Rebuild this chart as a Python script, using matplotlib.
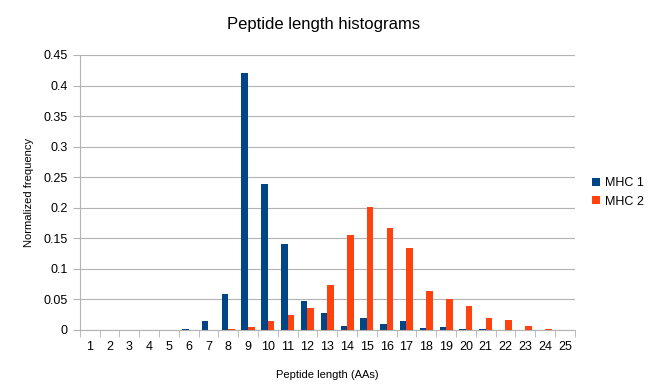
import numpy as np
import matplotlib.pyplot as plt

plt.rcParams['font.family'] = ['Liberation Sans', 'DejaVu Sans']

lengths = list(range(1, 26))
mhc1 = [0, 0, 0, 0, 0, 0.001, 0.015, 0.059, 0.42, 0.239, 0.141, 0.047, 0.028,
        0.007, 0.019, 0.009, 0.015, 0.003, 0.004, 0.001, 0.001, 0.0005, 0.0005, 0, 0]
mhc2 = [0, 0, 0, 0, 0, 0, 0, 0.001, 0.004, 0.015, 0.025, 0.036, 0.074,
        0.156, 0.201, 0.167, 0.134, 0.063, 0.05, 0.039, 0.019, 0.017, 0.007, 0.001, 0]

fig = plt.figure(figsize=(6.48, 3.9), dpi=100)
ax = fig.add_axes([0.123, 0.154, 0.764, 0.705])

x = np.arange(len(lengths))
w = 0.33
ax.bar(x - w / 2, mhc1, w, color='#004586', label='MHC 1', zorder=3)
ax.bar(x + w / 2, mhc2, w, color='#ff420e', label='MHC 2', zorder=3)

ax.set_xlim(-0.5, len(lengths) - 0.5)
ax.set_ylim(0, 0.45)
ax.set_yticks(np.arange(0, 0.451, 0.05))
ax.set_yticklabels(['0', '0.05', '0.1', '0.15', '0.2', '0.25', '0.3', '0.35', '0.4', '0.45'])
ax.set_xticks(x)
ax.set_xticklabels([str(v) for v in lengths])
ax.set_xticks(np.arange(-0.5, len(lengths), 1), minor=True)
ax.tick_params(axis='x', which='major', length=0, pad=8, labelsize=9)
ax.tick_params(axis='x', which='minor', length=5, color='#b3b3b3')
ax.tick_params(axis='y', length=5, color='#b3b3b3', labelsize=9)
ax.grid(axis='y', color='#b3b3b3', linewidth=0.8, zorder=0)

for s in ['top', 'right']:
    ax.spines[s].set_visible(False)
for s in ['left', 'bottom']:
    ax.spines[s].set_color('#b3b3b3')

ax.set_xlabel('Peptide length (AAs)', fontsize=8, labelpad=12)
ax.set_ylabel('Normalized frequency', fontsize=8, labelpad=7)
fig.text(0.5, 0.925, 'Peptide length histograms', ha='center', fontsize=12)

ax.legend(loc='center left', bbox_to_anchor=(1.0, 0.5), frameon=False,
          fontsize=9, handlelength=0.6, handleheight=0.6, handletextpad=0.4,
          borderaxespad=1.0)

fig.savefig('out.png', dpi=100)
